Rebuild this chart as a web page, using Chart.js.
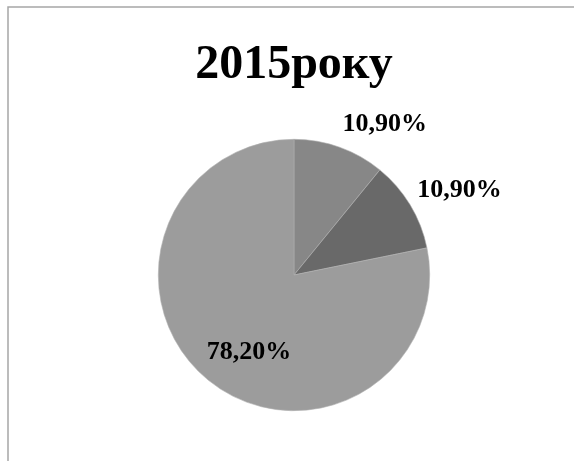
<!DOCTYPE html>
<html>
<head>
<meta charset="utf-8">
<script src="https://cdn.jsdelivr.net/npm/chart.js@4.4.1/dist/chart.umd.min.js"></script>
<style>
html,body{margin:0;padding:0;background:#fff;}
canvas{display:block;}
</style>
</head>
<body>
<canvas id="c" width="574" height="461"></canvas>
<script>
const chartTitle = "2015року";
const categories = ["Частка 1", "Частка 2", "Частка 3"];
const values = [10.9, 10.9, 78.2];
const valueLabels = ["10,90%", "10,90%", "78,20%"];
const sliceColors = ["#878787", "#696969", "#9c9c9c"];

const FONT = "'Liberation Serif', 'Times New Roman', serif";

const decorPlugin = {
  id: 'decor',
  beforeDraw(chart) {
    const ctx = chart.ctx;
    ctx.save();
    ctx.fillStyle = '#ffffff';
    ctx.fillRect(0, 0, chart.width, chart.height);
    ctx.strokeStyle = '#a6a6a6';
    ctx.lineWidth = 1.5;
    ctx.beginPath();
    ctx.moveTo(8, chart.height);
    ctx.lineTo(8, 7);
    ctx.lineTo(chart.width, 7);
    ctx.stroke();
    // title
    ctx.fillStyle = '#000';
    ctx.font = 'bold 48px ' + FONT;
    ctx.textAlign = 'center';
    ctx.textBaseline = 'alphabetic';
    ctx.fillText(chartTitle, 294, 78);
    ctx.restore();
  },
  afterDatasetsDraw(chart) {
    const ctx = chart.ctx;
    const meta = chart.getDatasetMeta(0);
    ctx.save();
    ctx.fillStyle = '#000';
    ctx.font = 'bold 26px ' + FONT;
    ctx.textBaseline = 'alphabetic';
    meta.data.forEach((arc, i) => {
      const mid = (arc.startAngle + arc.endAngle) / 2;
      const cx = arc.x, cy = arc.y, r = arc.outerRadius;
      const txt = valueLabels[i];
      if (values[i] < 50) {
        // outside end
        const ex = cx + r * Math.cos(mid);
        const ey = cy + r * Math.sin(mid);
        ctx.textAlign = 'left';
        const dy = i === 0 ? -16 : -8;
        const dx = i === 0 ? 3 : 7;
        ctx.fillText(txt, ex + dx, ey + dy);
      } else {
        const p = arc.tooltipPosition();
        ctx.textAlign = 'center';
        ctx.fillText(txt, p.x - 2, p.y + 31);
      }
    });
    ctx.restore();
  }
};

new Chart(document.getElementById('c'), {
  type: 'pie',
  data: {
    labels: categories,
    datasets: [{
      data: values,
      backgroundColor: sliceColors,
      borderWidth: 0.6,
      borderColor: '#b0b0b0'
    }]
  },
  options: {
    responsive: false,
    animation: false,
    layout: { padding: { top: 139, bottom: 50, left: 150, right: 136 } },
    plugins: {
      legend: { display: false },
      tooltip: { enabled: false },
      title: { display: false }
    }
  },
  plugins: [decorPlugin]
});
</script>
</body>
</html>
